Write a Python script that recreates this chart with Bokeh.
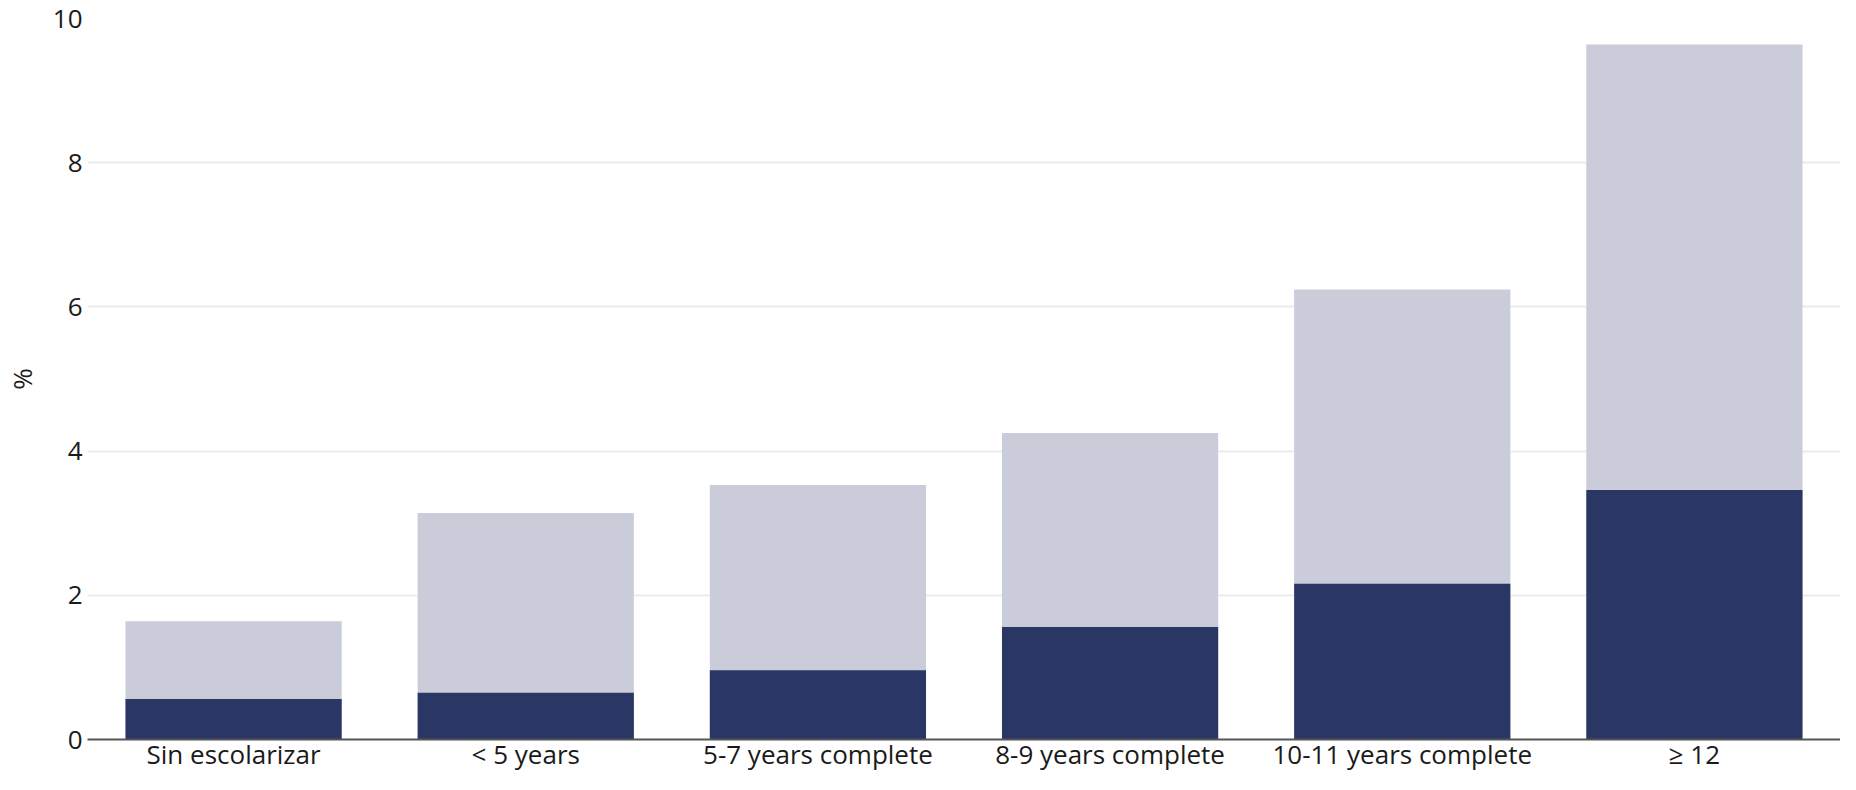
from bokeh.plotting import figure
from bokeh.models import ColumnDataSource, Range1d, FactorRange
from bokeh.embed import file_html
from bokeh.resources import INLINE

categories = ["Sin escolarizar", "< 5 years", "5-7 years complete",
              "8-9 years complete", "10-11 years complete", "≥ 12"]
total_values = [1.64, 3.14, 3.53, 4.25, 6.24, 9.64]
dark_values = [0.56, 0.65, 0.96, 1.56, 2.16, 3.46]

src = ColumnDataSource(dict(cat=categories, total=total_values, dark=dark_values))

FONT = "Open Sans"

p = figure(x_range=FactorRange(*categories, range_padding=0),
           y_range=Range1d(0, 10),
           width=1840, height=774, output_backend="svg", toolbar_location=None,
           min_border_left=0, min_border_right=0, min_border_top=18, min_border_bottom=0)

p.vbar(x="cat", top="total", width=0.74, source=src, color="#cacdd9", line_color=None)
p.vbar(x="cat", top="dark", width=0.74, source=src, color="#2a3764", line_color=None)

p.outline_line_color = None
p.xgrid.grid_line_color = None
p.ygrid.grid_line_color = "#ebebeb"
p.ygrid.grid_line_width = 2
p.yaxis.ticker = [0, 2, 4, 6, 8, 10]
p.yaxis.axis_line_color = None
p.yaxis.major_tick_line_color = None
p.yaxis.minor_tick_line_color = None
p.yaxis.major_tick_out = 0
p.yaxis.major_tick_in = 0
p.yaxis.major_label_text_font_size = "26px"
p.yaxis.major_label_text_font = FONT
p.yaxis.major_label_text_color = "#1a1a1a"
p.yaxis.major_label_standoff = 5
p.yaxis.axis_label = "%"
p.yaxis.axis_label_text_font = FONT
p.yaxis.axis_label_text_font_style = "normal"
p.yaxis.axis_label_text_font_size = "26px"
p.yaxis.axis_label_text_color = "#1a1a1a"
p.yaxis.axis_label_standoff = 10

p.xaxis.axis_line_color = "#555555"
p.xaxis.axis_line_width = 2
p.xaxis.major_tick_line_color = None
p.xaxis.minor_tick_line_color = None
p.xaxis.major_tick_out = 0
p.xaxis.major_tick_in = 0
p.xaxis.major_label_text_font_size = "26px"
p.xaxis.major_label_text_font = FONT
p.xaxis.major_label_text_color = "#1a1a1a"
p.xaxis.major_label_standoff = -4

open("out.html", "w").write(file_html(p, INLINE))
